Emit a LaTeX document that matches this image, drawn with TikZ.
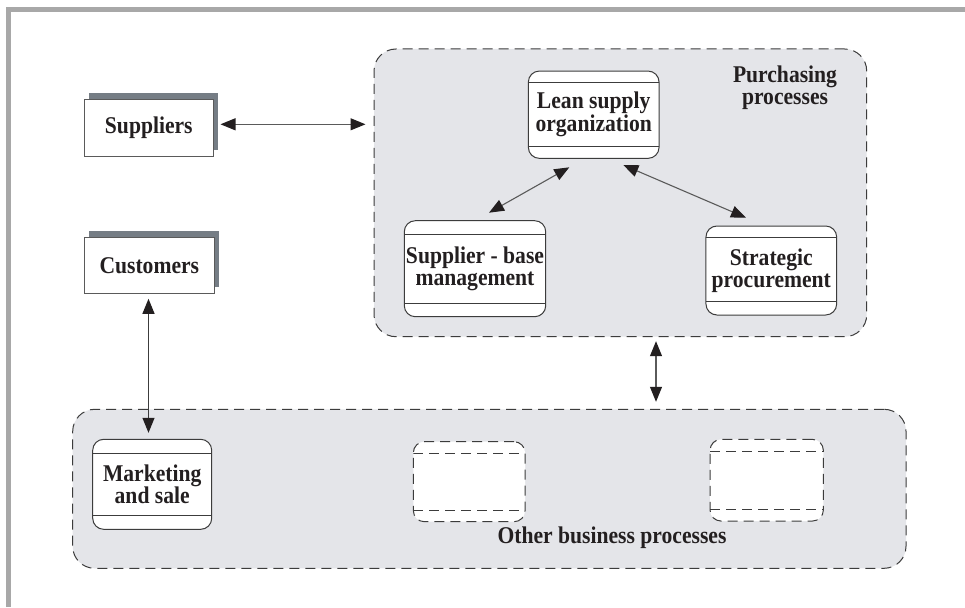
\documentclass[tikz,border=0pt]{standalone}
\usepackage{fontspec}
\setmainfont[FakeStretch=0.9]{Liberation Serif}
\usetikzlibrary{arrows.meta,shadows,calc}
\definecolor{framec}{RGB}{168,168,168}
\definecolor{groupc}{RGB}{228,229,233}
\definecolor{shadowc}{RGB}{117,125,133}
\definecolor{linec}{RGB}{60,60,60}
\definecolor{arrc}{RGB}{90,90,90}
\definecolor{txt}{RGB}{35,31,32}
\begin{document}
\begin{tikzpicture}[x=1pt,y=-1pt,
  lbl/.style={font=\bfseries\fontsize{24}{21.7}\selectfont, text=txt, align=center},
  innerl/.style={},
  group/.style={draw=linec, fill=groupc, dash pattern=on 10pt off 6pt, line width=1pt, rounded corners=22pt, inner sep=0pt},
  proc/.style n args={4}{draw=linec, fill=white, line width=1pt, rounded corners=11pt,
    minimum width=#1, minimum height=#2, inner sep=0pt, lbl,
    path picture={
      \draw[linec, line width=1pt, innerl] ([yshift=-#3]path picture bounding box.north west) -- ([yshift=-#3]path picture bounding box.north east);
      \draw[linec, line width=1pt, innerl] ([yshift=#4]path picture bounding box.south west) -- ([yshift=#4]path picture bounding box.south east);}},
  ext/.style={draw=arrc, fill=white, line width=1pt, minimum width=129pt, minimum height=57pt, inner sep=0pt, lbl,
    general shadow={fill=shadowc, shadow xshift=4.6pt, shadow yshift=6.5pt}},
  arr/.style={draw=arrc, line width=1.1pt, <->, >={Triangle[length=15pt,width=12pt,color=txt]}}
]
\useasboundingbox (0,0) rectangle (965,607);
\fill[white] (0,0) rectangle (965,607);
% frame
\draw[framec, line width=5pt] (8.5,607) -- (8.5,9.5) -- (965,9.5);

% groups
\node[group, minimum width=492.7pt, minimum height=287.7pt] (purch) at (620.35,192.85) {};
\node[group, minimum width=833.3pt, minimum height=159pt] (other) at (489.35,488.8) {};
\node[lbl] (purchlbl) at (785,88) {Purchasing\\processes};
\node[lbl] (otherlbl) at (612,538) {Other business processes};

% external entities
\node[ext] (sup) at (148.8,128) {Suppliers};
\node[ext, minimum width=130pt, minimum height=56pt] (cust) at (149.3,265.3) {Customers};

% processes
\node[proc={130.7pt}{87.3pt}{11.3pt}{11.6pt}] (lean) at (593.7,114.7) {Lean supply\\organization};
\node[proc={141.4pt}{96pt}{13.6pt}{13.4pt}] (sbm) at (475,268.7) {Supplier - base\\management};
\node[proc={130.7pt}{89pt}{11.3pt}{13.3pt}] (strat) at (771.3,270.5) {Strategic\\procurement};
\node[proc={119pt}{90pt}{14pt}{14.3pt}] (mkt) at (152.2,484.3) {Marketing\\and sale};
\node[proc={111.7pt}{80pt}{11.6pt}{11.7pt}, dash pattern=on 10pt off 6pt, innerl/.style={dash pattern=on 10pt off 6pt}] (empty1) at (469.2,481.7) {};
\node[proc={113.3pt}{81.7pt}{12.4pt}{12pt}, dash pattern=on 10pt off 6pt, innerl/.style={dash pattern=on 10pt off 6pt}] (empty2) at (766.7,480.2) {};

% connectors
\draw[arr] ([xshift=6.7pt,yshift=3.7pt]sup.east) -- ([xshift=-8pt,yshift=3.7pt]purch.west |- sup.east);
\coordinate (l1) at (569.3,167.3);
\coordinate (s1) at (489,212.7);
\coordinate (l2) at (623.3,165);
\coordinate (s2) at (746,217.7);
\draw[arr] (l1) -- (s1);
\draw[arr] (l2) -- (s2);
\draw[arr, draw=linec] ([xshift=-0.8pt,yshift=-5pt]cust.south) -- ([xshift=-0.8pt,yshift=6pt]cust.south |- mkt.north);
\coordinate (v1) at (656,0 |- purch.south);
\coordinate (v2) at (656,0 |- other.north);
\draw[arr] ([yshift=-4pt]v1) -- ([yshift=7pt]v2);
\end{tikzpicture}
\end{document}
